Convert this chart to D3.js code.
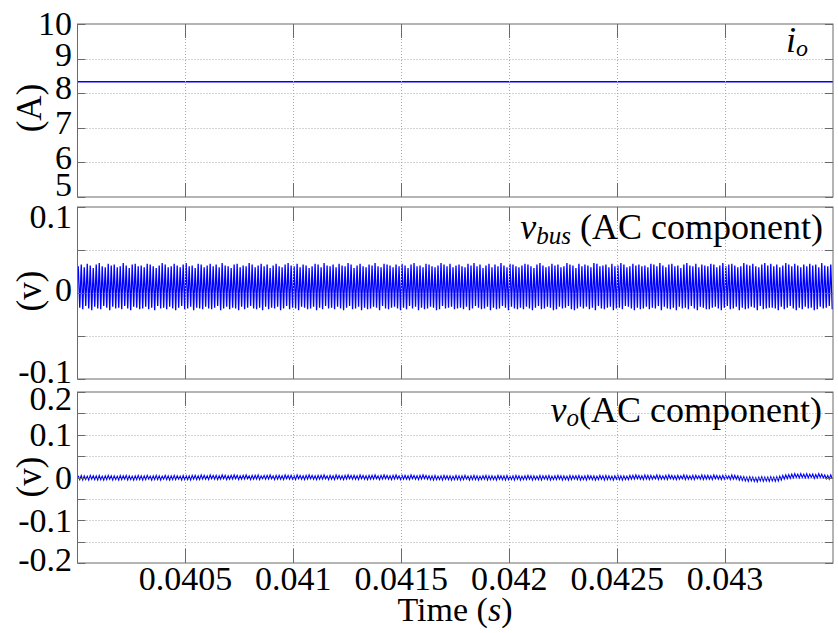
<!DOCTYPE html>
<html>
<head>
<meta charset="utf-8">
<script src="https://cdn.jsdelivr.net/npm/d3@7"></script>
</head>
<body style="margin:0;background:#fff">
<svg id="chart" width="838" height="633"></svg>
<script>

// ---- time axis ----
var tStart = 0.04, tEnd = 0.0435;
var xTicks = [0.0405, 0.041, 0.0415, 0.042, 0.0425, 0.043];
var xTickLabels = ["0.0405", "0.041", "0.0415", "0.042", "0.0425", "0.043"];

// ---- i_o (A) ----
var ioTimes = [0.04, 0.0435];
var ioValues = [8.33, 8.33];
var ioTicks = [5, 6, 7, 8, 9, 10];
var ioLabelTicks = [5, 6, 7, 8, 9, 10];

// ---- v_bus AC component, per switching cycle peaks (mV) ----
var vbusHigh = [
  31,33,30,34,32,29,33,35,31,30,34,32,33,30,31,35,32,29,33,34,31,
  32,30,34,33,31,29,32,35,33,30,31,34,32,30,33,35,31,32,29,34,33,
  30,32,34,31,33,30,35,32,31,29,33,34,30,32,31,35,33,30,32,34,31,
  33,29,32,34,31,30,33,35,32,31,34,30,33,32,29,31,34,33,30,35,32,
  31,33,30,34,32,31,35,33,29,32,34,31,30,33,32,35,31,30,34,33,32,
  30,33,31,34,32,29,33,35,31,32,30,34,33,31,30,32,35,33,31,34,30,
  32,33,31,30,34,32,35,31,33,29,32,34,30,33,31,35,32,30,34,33,31,
  30,32,34,33,31,29,33,35,32,30,31,34,32,33,30,31,35,33,32,29,34,
  31,33,32,30,35,34,31,32,33,30,34,31,32,35,33,30,31,34,32,33,31,
  32,30,34,33,31,35,32,30,33,34,31,32,29,33,35,32,31,34,30,33,32,
  31,34,33,30,32,35,31,33,34,32,30,31,35,33,32,34,31,30,33,35,32,
  34,31,33,30,32,35,33,31,34,32,30,33,31,34,32,33,30,35,32,31,33
];
var vbusLow = [
  -17,-19,-15,-18,-20,-16,-18,-19,-15,-17,-20,-16,-18,-17,-19,-15,-18,-20,-16,-17,-19,
  -18,-16,-19,-17,-20,-15,-18,-17,-19,-16,-18,-20,-17,-15,-19,-18,-16,-20,-17,-18,-19,
  -16,-18,-19,-17,-15,-20,-18,-16,-19,-17,-18,-20,-16,-19,-17,-15,-18,-19,-17,-20,-16,
  -19,-17,-18,-16,-20,-18,-15,-19,-17,-18,-20,-16,-17,-19,-18,-16,-20,-17,-19,-15,-18,
  -17,-19,-16,-18,-20,-17,-15,-19,-18,-16,-20,-17,-19,-18,-16,-17,-20,-15,-18,-19,-17,
  -16,-18,-20,-17,-19,-15,-18,-16,-20,-17,-19,-18,-16,-17,-20,-19,-15,-18,-17,-16,-19,
  -18,-17,-19,-16,-20,-18,-15,-17,-19,-18,-16,-20,-17,-19,-18,-15,-17,-20,-16,-18,-19,
  -17,-19,-16,-18,-20,-17,-15,-19,-18,-16,-17,-20,-19,-16,-18,-17,-15,-19,-20,-18,-16,
  -18,-16,-19,-17,-20,-15,-18,-19,-17,-16,-20,-18,-17,-19,-15,-16,-18,-20,-17,-19,-18,
  -16,-19,-17,-18,-15,-20,-16,-18,-19,-17,-20,-16,-18,-17,-19,-15,-18,-20,-16,-17,-19,
  -19,-17,-16,-18,-20,-17,-15,-19,-18,-16,-20,-17,-19,-18,-16,-17,-20,-15,-19,-18,-17,
  -17,-18,-20,-16,-19,-17,-15,-18,-20,-17,-19,-16,-18,-17,-20,-19,-16,-18,-17,-15,-19
];
var vbusTicks = [-0.1, -0.05, 0, 0.05, 0.1];
var vbusLabelTicks = [-0.1, 0, 0.1];

// ---- v_o AC component, per cycle peaks (mV) ----
var voHigh = [
  4,5,4,3,5,4,4,5,3,4,5,4,4,3,5,4,5,4,3,4,5,
  4,4,5,3,4,5,4,3,5,4,4,5,4,3,5,4,4,5,5,4,6,
  5,4,6,5,5,4,6,5,4,5,6,5,4,5,6,4,5,5,6,4,5,
  5,6,4,5,5,4,6,5,5,4,6,5,4,5,6,5,4,5,5,6,4,
  5,4,6,5,4,5,6,5,5,4,6,5,4,5,5,6,4,5,6,5,4,
  5,6,4,5,5,4,6,5,4,5,6,5,4,4,5,3,4,5,4,4,3,
  5,4,4,5,3,4,5,4,3,4,5,4,4,3,5,4,4,5,3,4,5,
  4,3,4,5,4,4,3,5,4,4,5,3,4,5,4,4,3,5,4,4,5,
  3,4,5,4,4,3,5,4,5,4,3,4,5,4,4,3,5,5,6,5,4,
  6,5,5,4,6,5,4,5,6,5,4,5,4,6,5,4,5,5,4,6,5,
  5,4,6,5,4,5,5,4,6,5,4,3,2,1,2,1,0,1,2,1,1,
  2,1,2,3,5,6,7,8,9,8,9,8,9,8,8,7,9,8,6,5,6
];
var voLow = [
  -5,-6,-5,-6,-4,-5,-6,-5,-6,-5,-4,-6,-5,-6,-5,-4,-6,-5,-6,-5,-5,
  -6,-5,-4,-6,-5,-5,-6,-4,-5,-6,-5,-5,-4,-6,-5,-5,-6,-4,-5,-5,-4,
  -4,-5,-3,-4,-5,-4,-3,-5,-4,-4,-3,-5,-4,-4,-3,-5,-4,-4,-5,-3,-4,
  -4,-3,-5,-4,-4,-5,-3,-4,-4,-5,-3,-4,-5,-4,-3,-4,-5,-4,-4,-3,-5,
  -4,-5,-3,-4,-5,-4,-3,-4,-4,-5,-3,-4,-5,-4,-4,-3,-5,-4,-3,-4,-5,
  -4,-3,-5,-4,-4,-5,-3,-4,-5,-4,-3,-4,-5,-6,-5,-5,-6,-4,-5,-6,-5,
  -5,-6,-5,-4,-6,-5,-5,-6,-5,-4,-6,-5,-5,-6,-4,-5,-6,-5,-5,-6,-4,
  -6,-5,-5,-4,-6,-5,-5,-6,-4,-5,-6,-5,-5,-4,-6,-5,-6,-5,-4,-5,-6,
  -5,-6,-4,-5,-6,-5,-4,-6,-5,-5,-6,-4,-5,-6,-5,-5,-4,-4,-3,-4,-5,
  -4,-5,-4,-3,-5,-4,-4,-5,-3,-4,-5,-4,-3,-5,-4,-4,-5,-3,-4,-5,-4,
  -4,-5,-3,-4,-5,-4,-3,-5,-4,-4,-6,-7,-8,-9,-8,-9,-10,-8,-9,-8,-9,
  -8,-9,-8,-6,-4,-3,-2,-1,0,-1,0,-1,-1,0,-2,-1,0,-1,-3,-4,-3
];
var voTicks = [-0.2, -0.15, -0.1, -0.05, 0, 0.05, 0.1, 0.15, 0.2];
var voLabelTicks = [-0.2, -0.1, 0, 0.1, 0.2];

// one family name only, the renderer does not take a fallback list
var serifFont = "Liberation Serif";

// turn per-cycle peaks into a zig-zag series
function cycleSeries(highs, lows) {
  var n = highs.length, dt = (tEnd - tStart) / n, pts = [];
  for (var i = 0; i < n; i++) {
    pts.push([tStart + (i + 0.25) * dt, highs[i] / 1000]);
    pts.push([tStart + (i + 0.75) * dt, lows[i] / 1000]);
  }
  return pts;
}

// ascii minus like the original figure
function fmt1(d) { return d === 0 ? "0" : (d < 0 ? "-" : "") + d3.format(".1f")(Math.abs(d)); }

// serif text helper
function txt(sel, size) {
  return sel.append("text").style("font-family", serifFont).style("font-size", size + "px").style("fill", "#000");
}

var left = 77.5, right = 833;
var svg = d3.select("#chart");
var x = d3.scaleLinear().domain([tStart, tEnd]).range([left, right]);

var panels = [
  { top: 24, bottom: 197, domain: [5, 10], ticks: ioTicks, labels: ioLabelTicks,
    fmt: d3.format("d"), nudge: { "10": 0, "9": -4, "8": -5, "7": -5, "6": -5, "5": -12 },
    series: ioTimes.map(function(t, i) { return [t, ioValues[i]]; }), width: 1.6,
    unit: "(A)", unitY: 108 },
  { top: 207, bottom: 379, domain: [-0.1, 0.1], ticks: vbusTicks, labels: vbusLabelTicks,
    fmt: fmt1, nudge: { "0.1": 10, "0": -3, "-0.1": -7 },
    series: cycleSeries(vbusHigh, vbusLow), width: 1.3,
    unit: "(v)", unitY: 291 },
  { top: 392, bottom: 563, domain: [-0.2, 0.2], ticks: voTicks, labels: voLabelTicks,
    fmt: fmt1, nudge: { "0.2": 7, "0.1": 0, "0": 0, "-0.1": 1, "-0.2": -3 },
    series: cycleSeries(voHigh, voLow), width: 1.1,
    unit: "(v)", unitY: 477 }
];

panels.forEach(function(p) {
  var y = d3.scaleLinear().domain(p.domain).range([p.bottom, p.top]);
  var g = svg.append("g");

  // data
  g.append("path")
    .datum(p.series)
    .attr("fill", "none")
    .attr("stroke", "#0000ff")
    .attr("stroke-width", p.width)
    .attr("d", d3.line().x(function(d) { return x(d[0]); }).y(function(d) { return y(d[1]); }));

  // dotted grid
  g.selectAll(".gx").data(xTicks).enter().append("line")
    .attr("x1", function(d) { return Math.round(x(d)) + 0.5; })
    .attr("x2", function(d) { return Math.round(x(d)) + 0.5; })
    .attr("y1", p.top).attr("y2", p.bottom)
    .attr("stroke", "#a8a8a8").attr("stroke-dasharray", "1,2");
  g.selectAll(".gy").data(p.ticks.filter(function(d) { return d !== p.domain[0] && d !== p.domain[1]; }))
    .enter().append("line")
    .attr("x1", left).attr("x2", right)
    .attr("y1", function(d) { return Math.round(y(d)) + 0.5; })
    .attr("y2", function(d) { return Math.round(y(d)) + 0.5; })
    .attr("stroke", "#a8a8a8").attr("stroke-dasharray", "1,2");

  // ticks (inside, both sides)
  xTicks.forEach(function(t) {
    var xx = Math.round(x(t)) + 0.5;
    g.append("line").attr("x1", xx).attr("x2", xx).attr("y1", p.top).attr("y2", p.top + 14)
      .attr("stroke", "#6a6a6a");
    g.append("line").attr("x1", xx).attr("x2", xx).attr("y1", p.bottom).attr("y2", p.bottom - 14)
      .attr("stroke", "#6a6a6a");
  });
  p.ticks.forEach(function(v) {
    var yy = Math.round(y(v)) + 0.5;
    g.append("line").attr("x1", left).attr("x2", left + 8).attr("y1", yy).attr("y2", yy)
      .attr("stroke", "#6a6a6a");
    g.append("line").attr("x1", right).attr("x2", right - 8).attr("y1", yy).attr("y2", yy)
      .attr("stroke", "#6a6a6a");
  });

  // frame
  g.append("rect")
    .attr("x", left).attr("y", p.top)
    .attr("width", right - left).attr("height", p.bottom - p.top)
    .attr("fill", "none").attr("stroke", "#6a6a6a").attr("stroke-width", 1);

  // y tick labels
  p.labels.forEach(function(d) {
    txt(g, 34)
      .attr("x", 72)
      .attr("y", y(d) + (p.nudge[String(d)] || 0))
      .attr("dy", "0.33em")
      .attr("text-anchor", "end")
      .text(p.fmt(d));
  });

  // unit label
  txt(g, 35)
    .attr("transform", "translate(41," + p.unitY + ") rotate(-90)")
    .attr("text-anchor", "middle")
    .text(p.unit);
});

// x tick labels
xTicks.forEach(function(d, i) {
  txt(svg, 34)
    .attr("x", x(d))
    .attr("y", 590)
    .attr("text-anchor", "middle")
    .text(xTickLabels[i]);
});

// x axis title
var xt = txt(svg, 34).attr("x", 455).attr("y", 621).attr("text-anchor", "middle");
xt.append("tspan").text("Time (");
xt.append("tspan").style("font-style", "italic").text("s");
xt.append("tspan").text(")");

// panel annotations
var a1 = txt(svg, 36).attr("x", 808).attr("y", 52).attr("text-anchor", "end");
a1.append("tspan").style("font-style", "italic").text("i");
a1.append("tspan").style("font-style", "italic").style("font-size", "24px").attr("dy", 4).text("o");

var a2 = txt(svg, 36).attr("x", 823).attr("y", 239).attr("text-anchor", "end");
a2.append("tspan").style("font-style", "italic").text("v");
a2.append("tspan").style("font-style", "italic").style("font-size", "25px").attr("dy", 5).text("bus");
a2.append("tspan").attr("dy", -5).text(" (AC component)");

var a3 = txt(svg, 36).attr("x", 822).attr("y", 422).attr("text-anchor", "end");
a3.append("tspan").style("font-style", "italic").text("v");
a3.append("tspan").style("font-style", "italic").style("font-size", "25px").attr("dy", 4).text("o");
a3.append("tspan").attr("dy", -4).text("(AC component)");

</script>
</body>
</html>
